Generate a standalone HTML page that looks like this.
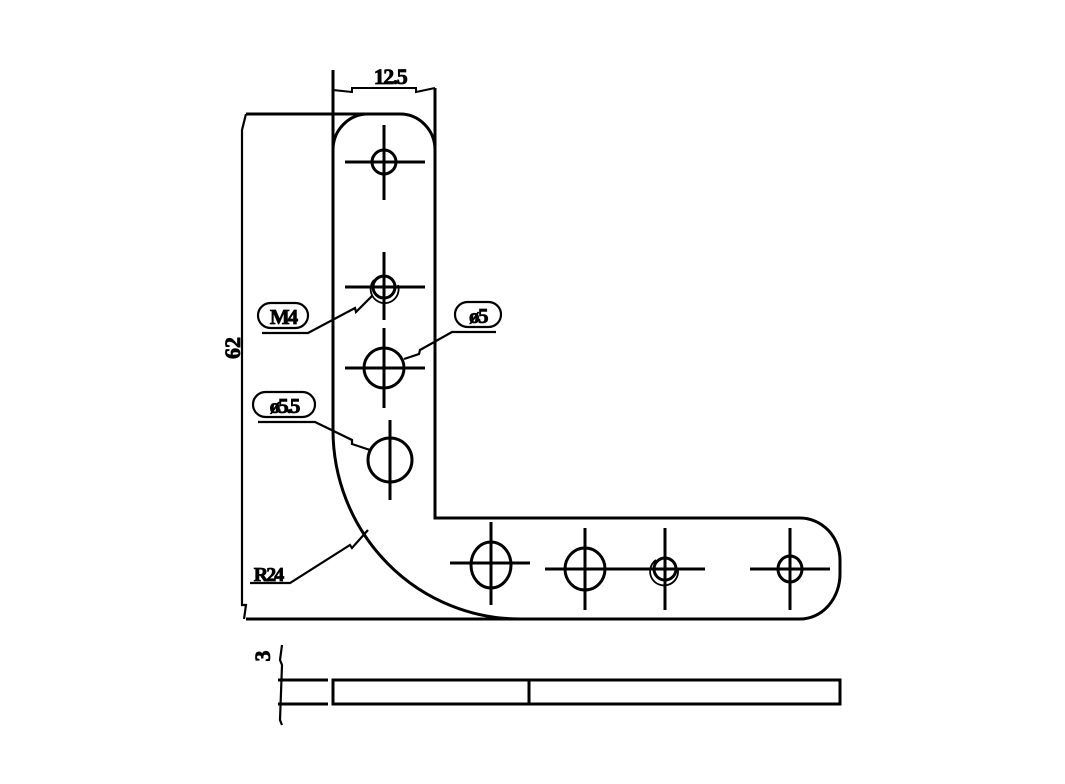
<!DOCTYPE html>
<html><head><meta charset="utf-8"><style>html,body{margin:0;padding:0;background:#fff}svg{display:block}</style></head>
<body>
<svg width="1065" height="784" viewBox="0 0 1065 784" xmlns="http://www.w3.org/2000/svg">
<g fill="none" stroke="#000" stroke-width="3">
<path d="M333,70 V430 A187,189 0 0 0 520,619 H800 A40,45 0 0 0 840,574 V560 A40,42 0 0 0 800,518 H435 V150 A35,36 0 0 0 400,114 H368 A35,36 0 0 0 333,150"/>
<line x1="246" y1="114" x2="370" y2="114"/>
<line x1="246" y1="619" x2="520" y2="619"/>
<line x1="435" y1="88" x2="435" y2="212"/>
<polyline points="333,90 352,92 352,88 416,88 416,92 435,88" stroke-width="2"/>
<polyline points="246,114 242,130 242,605 246,605 244,619" stroke-width="2.2"/>
<circle cx="384" cy="162" r="12"/>
<line x1="345" y1="162" x2="425" y2="162"/><line x1="384" y1="125" x2="384" y2="200"/>
<circle cx="384" cy="287" r="11"/><path d="M374,280 A14,14 0 1 0 398,285" stroke-width="1.8"/>
<line x1="345" y1="287" x2="425" y2="287"/><line x1="384" y1="252" x2="384" y2="320"/>
<circle cx="384" cy="368" r="20"/>
<line x1="345" y1="368" x2="425" y2="368"/><line x1="384" y1="328" x2="384" y2="408"/>
<circle cx="390" cy="460" r="22"/><line x1="390" y1="420" x2="390" y2="500"/>
<ellipse cx="491" cy="565" rx="20" ry="23"/>
<line x1="450" y1="563" x2="530" y2="563"/><line x1="491" y1="522" x2="491" y2="605"/>
<ellipse cx="585" cy="569" rx="20" ry="21"/>
<line x1="545" y1="569" x2="705" y2="569"/><line x1="585" y1="528" x2="585" y2="610"/>
<circle cx="665" cy="569" r="11"/><path d="M656,560 A14,14 0 1 0 678,570" stroke-width="1.8"/>
<line x1="665" y1="528" x2="665" y2="610"/>
<ellipse cx="790" cy="569" rx="12" ry="13"/>
<line x1="750" y1="569" x2="830" y2="569"/><line x1="790" y1="528" x2="790" y2="610"/>
<rect x="333" y="680" width="507" height="24"/>
<line x1="529" y1="680" x2="529" y2="704"/>
<line x1="278" y1="680" x2="328" y2="680"/><line x1="278" y1="704" x2="328" y2="704"/>
<polyline points="282,645 280,660 282,665 280,720 282,725" stroke-width="2.2"/>
<rect x="258" y="303" width="50" height="25" rx="12.5" stroke-width="2.2"/>
<polyline points="262,333 308,333 355,308 356,312 372,296" stroke-width="2.2"/>
<rect x="455" y="302" width="46" height="25" rx="12.5" stroke-width="2.2"/>
<polyline points="496,332 452,332 420,350 419,354 404,359" stroke-width="2.2"/>
<rect x="253" y="392" width="62" height="25" rx="12.5" stroke-width="2.2"/>
<polyline points="258,422 315,422 352,440 352,444 370,450" stroke-width="2.2"/>
<polyline points="250,583 290,583 350,545 352,548 368,530" stroke-width="2.2"/>
</g>
<g font-family="Liberation Serif, serif" font-weight="bold" fill="#000" stroke="#000" stroke-width="0.8" text-anchor="middle">
<text x="390" y="84" font-size="22" letter-spacing="-1.5">12.5</text>
<text x="283" y="324" font-size="21" letter-spacing="-2">M4</text>
<text x="478" y="323" font-size="21" letter-spacing="-1.5">ø5</text>
<text x="284" y="413" font-size="21" letter-spacing="-2">ø5.5</text>
<text x="268" y="581" font-size="20" letter-spacing="-2">R24</text>
<text transform="translate(240,348) rotate(-90)" font-size="22">62</text>
<text transform="translate(270,656) rotate(-90)" font-size="22">3</text>
</g>
</svg>
</body></html>
